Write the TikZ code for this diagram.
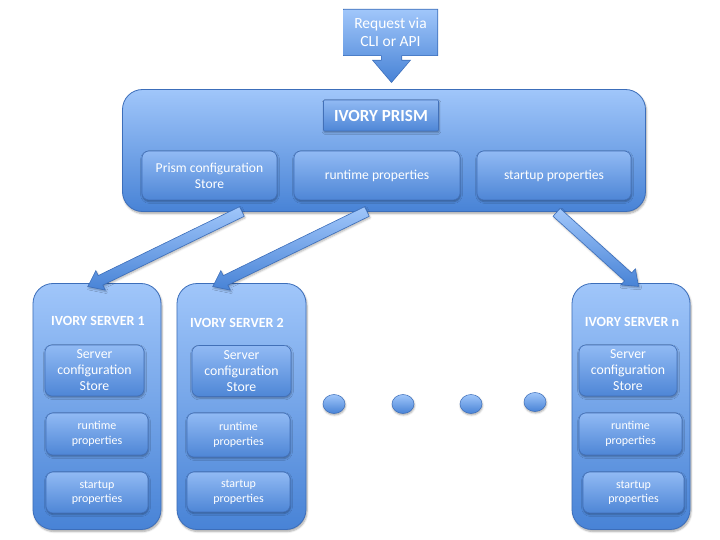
\documentclass[tikz,border=0pt]{standalone}
\usepackage{fontspec}
\setmainfont{Carlito}
\usetikzlibrary{shapes.arrows,shapes.geometric,calc,shadows.blur}
\definecolor{btop}{RGB}{160,198,250}
\definecolor{bbot}{RGB}{72,131,214}
\definecolor{bord}{RGB}{60,110,186}
\definecolor{itop}{RGB}{145,186,244}
\definecolor{ibot}{RGB}{78,134,214}
\definecolor{iborder}{RGB}{66,112,184}
\tikzset{
  bigbox/.style={draw=bord, line width=0.8pt, top color=btop, bottom color=bbot, rounded corners=20pt,
     blur shadow={shadow blur steps=6, shadow xshift=1pt, shadow yshift=-2pt, shadow opacity=35}},
  innerbox/.style={draw=iborder, line width=0.6pt, top color=itop, bottom color=ibot, rounded corners=7pt,
     text=white, align=center, inner sep=2pt,
     blur shadow={shadow blur steps=4, shadow xshift=0.5pt, shadow yshift=-1.5pt, shadow opacity=35}},
  titlebox/.style={draw=iborder, line width=0.6pt, top color=itop, bottom color=ibot, rounded corners=1pt,
     text=white, font=\bfseries\fontsize{17}{19}\selectfont,
     blur shadow={shadow blur steps=4, shadow xshift=0.5pt, shadow yshift=-1.5pt, shadow opacity=35}},
  srvtitle/.style={text=white, font=\bfseries\fontsize{14}{16}\selectfont},
  bigtxt/.style={font=\fontsize{13.8}{16}\selectfont},
  ptxt/.style={font=\fontsize{13.6}{16}\selectfont},
  smalltxt/.style={font=\fontsize{12}{14.5}\selectfont},
  barrow/.style={single arrow, draw=bord, line width=0.6pt, top color=btop, bottom color=bbot,
     single arrow head extend=5.5pt, inner xsep=0pt, inner ysep=5pt, single arrow tip angle=75,
     blur shadow={shadow blur steps=4, shadow xshift=1pt, shadow yshift=-1.5pt, shadow opacity=30}},
  dot/.style={ellipse, draw=bord, line width=0.5pt, top color=btop, bottom color=bbot,
     minimum width=22pt, minimum height=19pt, inner sep=0pt,
     blur shadow={shadow blur steps=4, shadow xshift=0.5pt, shadow yshift=-1.5pt, shadow opacity=35}}
}
\newcommand\blockarrow[2]{%
  \path let \p1=($(#2)-(#1)$), \n1={atan2(\y1,\x1)}, \n2={veclen(\x1,\y1)} in
    node[barrow, minimum height=\n2, rotate=\n1] at ($(#1)!0.5!(#2)$) {};}
\begin{document}
\begin{tikzpicture}[x=1pt,y=-1pt]
\useasboundingbox (0,0) rectangle (720,540);
% request arrow
\fill[bord] (343,9) -- (438,9) -- (438,56) -- (402,56) -- (402,60) -- (411,60) -- (391.5,83)
   -- (372,60) -- (381,60) -- (381,56) -- (343,56) -- cycle;
\shade[top color=btop, bottom color=bbot] (343.7,9.7) -- (437.3,9.7) -- (437.3,55.3) -- (401.3,55.3) -- (401.3,60.7) -- (409.5,60.7) -- (391.5,81.8)
   -- (373.5,60.7) -- (381.7,60.7) -- (381.7,55.3) -- (343.7,55.3) -- cycle;
\node[text=white, align=center, font=\fontsize{15.5}{18}\selectfont] (req) at (390.5,32.5) {Request via\\CLI or API};
% prism
\node[bigbox, minimum width=523pt, minimum height=122pt] (prism) at (384,150.5) {};
\node[titlebox, minimum width=115pt, minimum height=31pt] (ptitle) at (381,115.5) {IVORY PRISM};
\node[innerbox, ptxt, minimum width=135pt, minimum height=49pt] (pconf) at (209.5,175.5) {Prism configuration\\Store};
\node[innerbox, ptxt, minimum width=166pt, minimum height=49pt] (prun) at (377,175.5) {runtime properties};
\node[innerbox, ptxt, minimum width=154pt, minimum height=49pt] (pstart) at (554,175.5) {startup properties};
% servers
\node[bigbox, minimum width=128pt, minimum height=246pt] (s1) at (97,406.5) {};
\node[srvtitle] (s1t) at (98,321) {IVORY SERVER 1};
\node[innerbox, bigtxt, minimum width=99pt, minimum height=51pt] (s1c) at (94.5,370.5) {Server\\configuration\\Store};
\node[innerbox, smalltxt, minimum width=102pt, minimum height=42pt] (s1r) at (97,434) {runtime\\properties};
\node[innerbox, smalltxt, minimum width=102pt, minimum height=41pt] (s1s) at (97,492.5) {startup\\properties};

\node[bigbox, minimum width=129pt, minimum height=246pt] (s2) at (241.5,406.5) {};
\node[srvtitle] (s2t) at (237,323) {IVORY SERVER 2};
\node[innerbox, bigtxt, minimum width=99pt, minimum height=51pt] (s2c) at (241.5,371) {Server\\configuration\\Store};
\node[innerbox, smalltxt, minimum width=103pt, minimum height=44pt] (s2r) at (238.5,435) {runtime\\properties};
\node[innerbox, smalltxt, minimum width=103pt, minimum height=40pt] (s2s) at (238.5,492) {startup\\properties};

\node[bigbox, minimum width=118pt, minimum height=246pt] (sn) at (631,406.5) {};
\node[srvtitle] (snt) at (632,322) {IVORY SERVER n};
\node[innerbox, bigtxt, minimum width=98pt, minimum height=51pt] (snc) at (628,370.5) {Server\\configuration\\Store};
\node[innerbox, smalltxt, minimum width=103pt, minimum height=42pt] (snr) at (630.5,434) {runtime\\properties};
\node[innerbox, smalltxt, minimum width=101pt, minimum height=41pt] (sns) at (633.5,492.5) {startup\\properties};
% dots
\node[dot] (d1) at (334,404) {};
\node[dot] (d2) at (403,404) {};
\node[dot] (d3) at (471,404) {};
\node[dot] (d4) at (535,402) {};
% block arrows
\coordinate (a1t) at (245,210);
\coordinate (a1h) at (91,285);
\coordinate (a2t) at (370,210);
\coordinate (a2h) at (216,285);
\coordinate (a3t) at (554,210);
\coordinate (a3h) at (636,284);
\blockarrow{a1t}{a1h}
\blockarrow{a2t}{a2h}
\blockarrow{a3t}{a3h}
\end{tikzpicture}
\end{document}
